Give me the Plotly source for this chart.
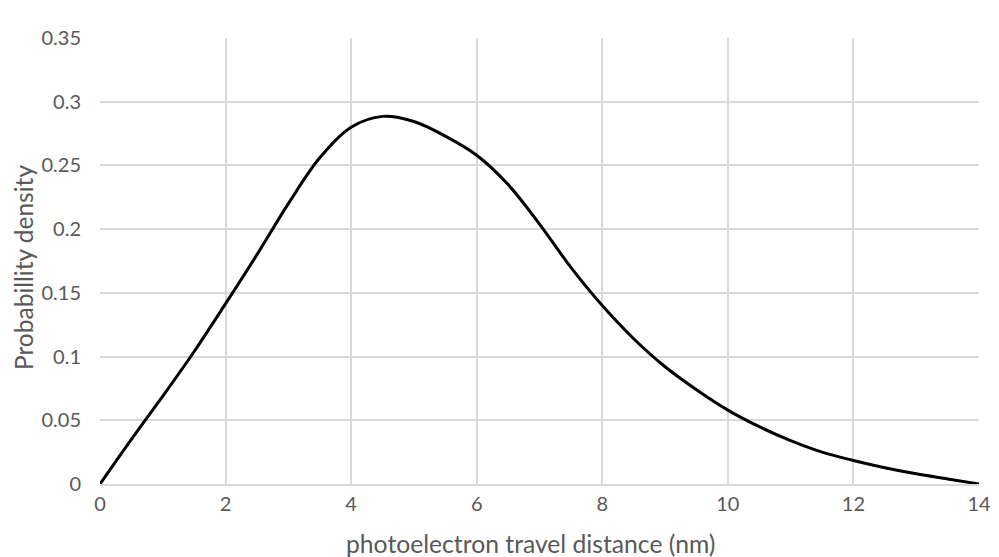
import plotly.graph_objects as go

distance_nm = [0, 0.5, 1, 1.5, 2, 2.5, 3, 3.5, 4, 4.5, 5, 5.5, 6, 6.5, 7,
               7.5, 8, 8.5, 9, 9.5, 10, 10.5, 11, 11.5, 12, 12.5, 13, 13.5, 14]
probability_density = [0.0, 0.035, 0.069, 0.104, 0.1415, 0.180, 0.220, 0.256, 0.280, 0.2885,
                       0.2845, 0.273, 0.258, 0.235, 0.204, 0.170, 0.140, 0.114, 0.092, 0.074,
                       0.058, 0.045, 0.034, 0.025, 0.0185, 0.0128, 0.008, 0.004, 0.0]

x_ticks = [0, 2, 4, 6, 8, 10, 12, 14]
y_ticks = [0, 0.05, 0.1, 0.15, 0.2, 0.25, 0.3, 0.35]
y_tick_text = ["0", "0.05", "0.1", "0.15", "0.2", "0.25", "0.3", "0.35"]
x_title = "photoelectron travel distance (nm)"
y_title = "Probabillity density"

fig = go.Figure()
fig.add_trace(go.Scatter(
    x=distance_nm, y=probability_density, mode="lines",
    line=dict(color="black", width=3, shape="spline", smoothing=1.0),
    showlegend=False, hoverinfo="x+y",
))

font_family = "Lato, 'Open Sans', sans-serif"
grey = "#595959"
grid = "#d9d9d9"

fig.update_layout(
    width=999, height=557,
    margin=dict(l=92, r=28, t=30, b=81, autoexpand=False),
    paper_bgcolor="white", plot_bgcolor="white",
    font=dict(family=font_family, color=grey, size=20),
)
fig.update_xaxes(
    range=[0, 14], tickvals=x_ticks, ticktext=[str(v) for v in x_ticks],
    showgrid=True, gridcolor=grid, gridwidth=1.5,
    showline=True, linecolor=grid, linewidth=1.5, mirror=False,
    zeroline=False, ticks="", tickfont=dict(size=20, color=grey),
    ticklabelstandoff=1,
)
fig.update_yaxes(
    range=[0, 0.35], tickvals=y_ticks, ticktext=y_tick_text,
    showgrid=True, gridcolor=grid, gridwidth=1.5,
    showline=False, zeroline=False, ticks="",
    tickfont=dict(size=20, color=grey), ticklabelstandoff=18,
)
fig.add_annotation(
    text=x_title, xref="paper", yref="paper", x=0.4892, y=-0.1345,
    xanchor="center", yanchor="middle", showarrow=False, borderpad=0,
    font=dict(size=24.7, color=grey, family=font_family),
)
fig.add_annotation(
    text=y_title, xref="paper", yref="paper", x=-0.0876, y=0.4865,
    xanchor="center", yanchor="middle", showarrow=False, textangle=-90, borderpad=0,
    font=dict(size=24.5, color=grey, family=font_family),
)

fig.write_html("out.html")
